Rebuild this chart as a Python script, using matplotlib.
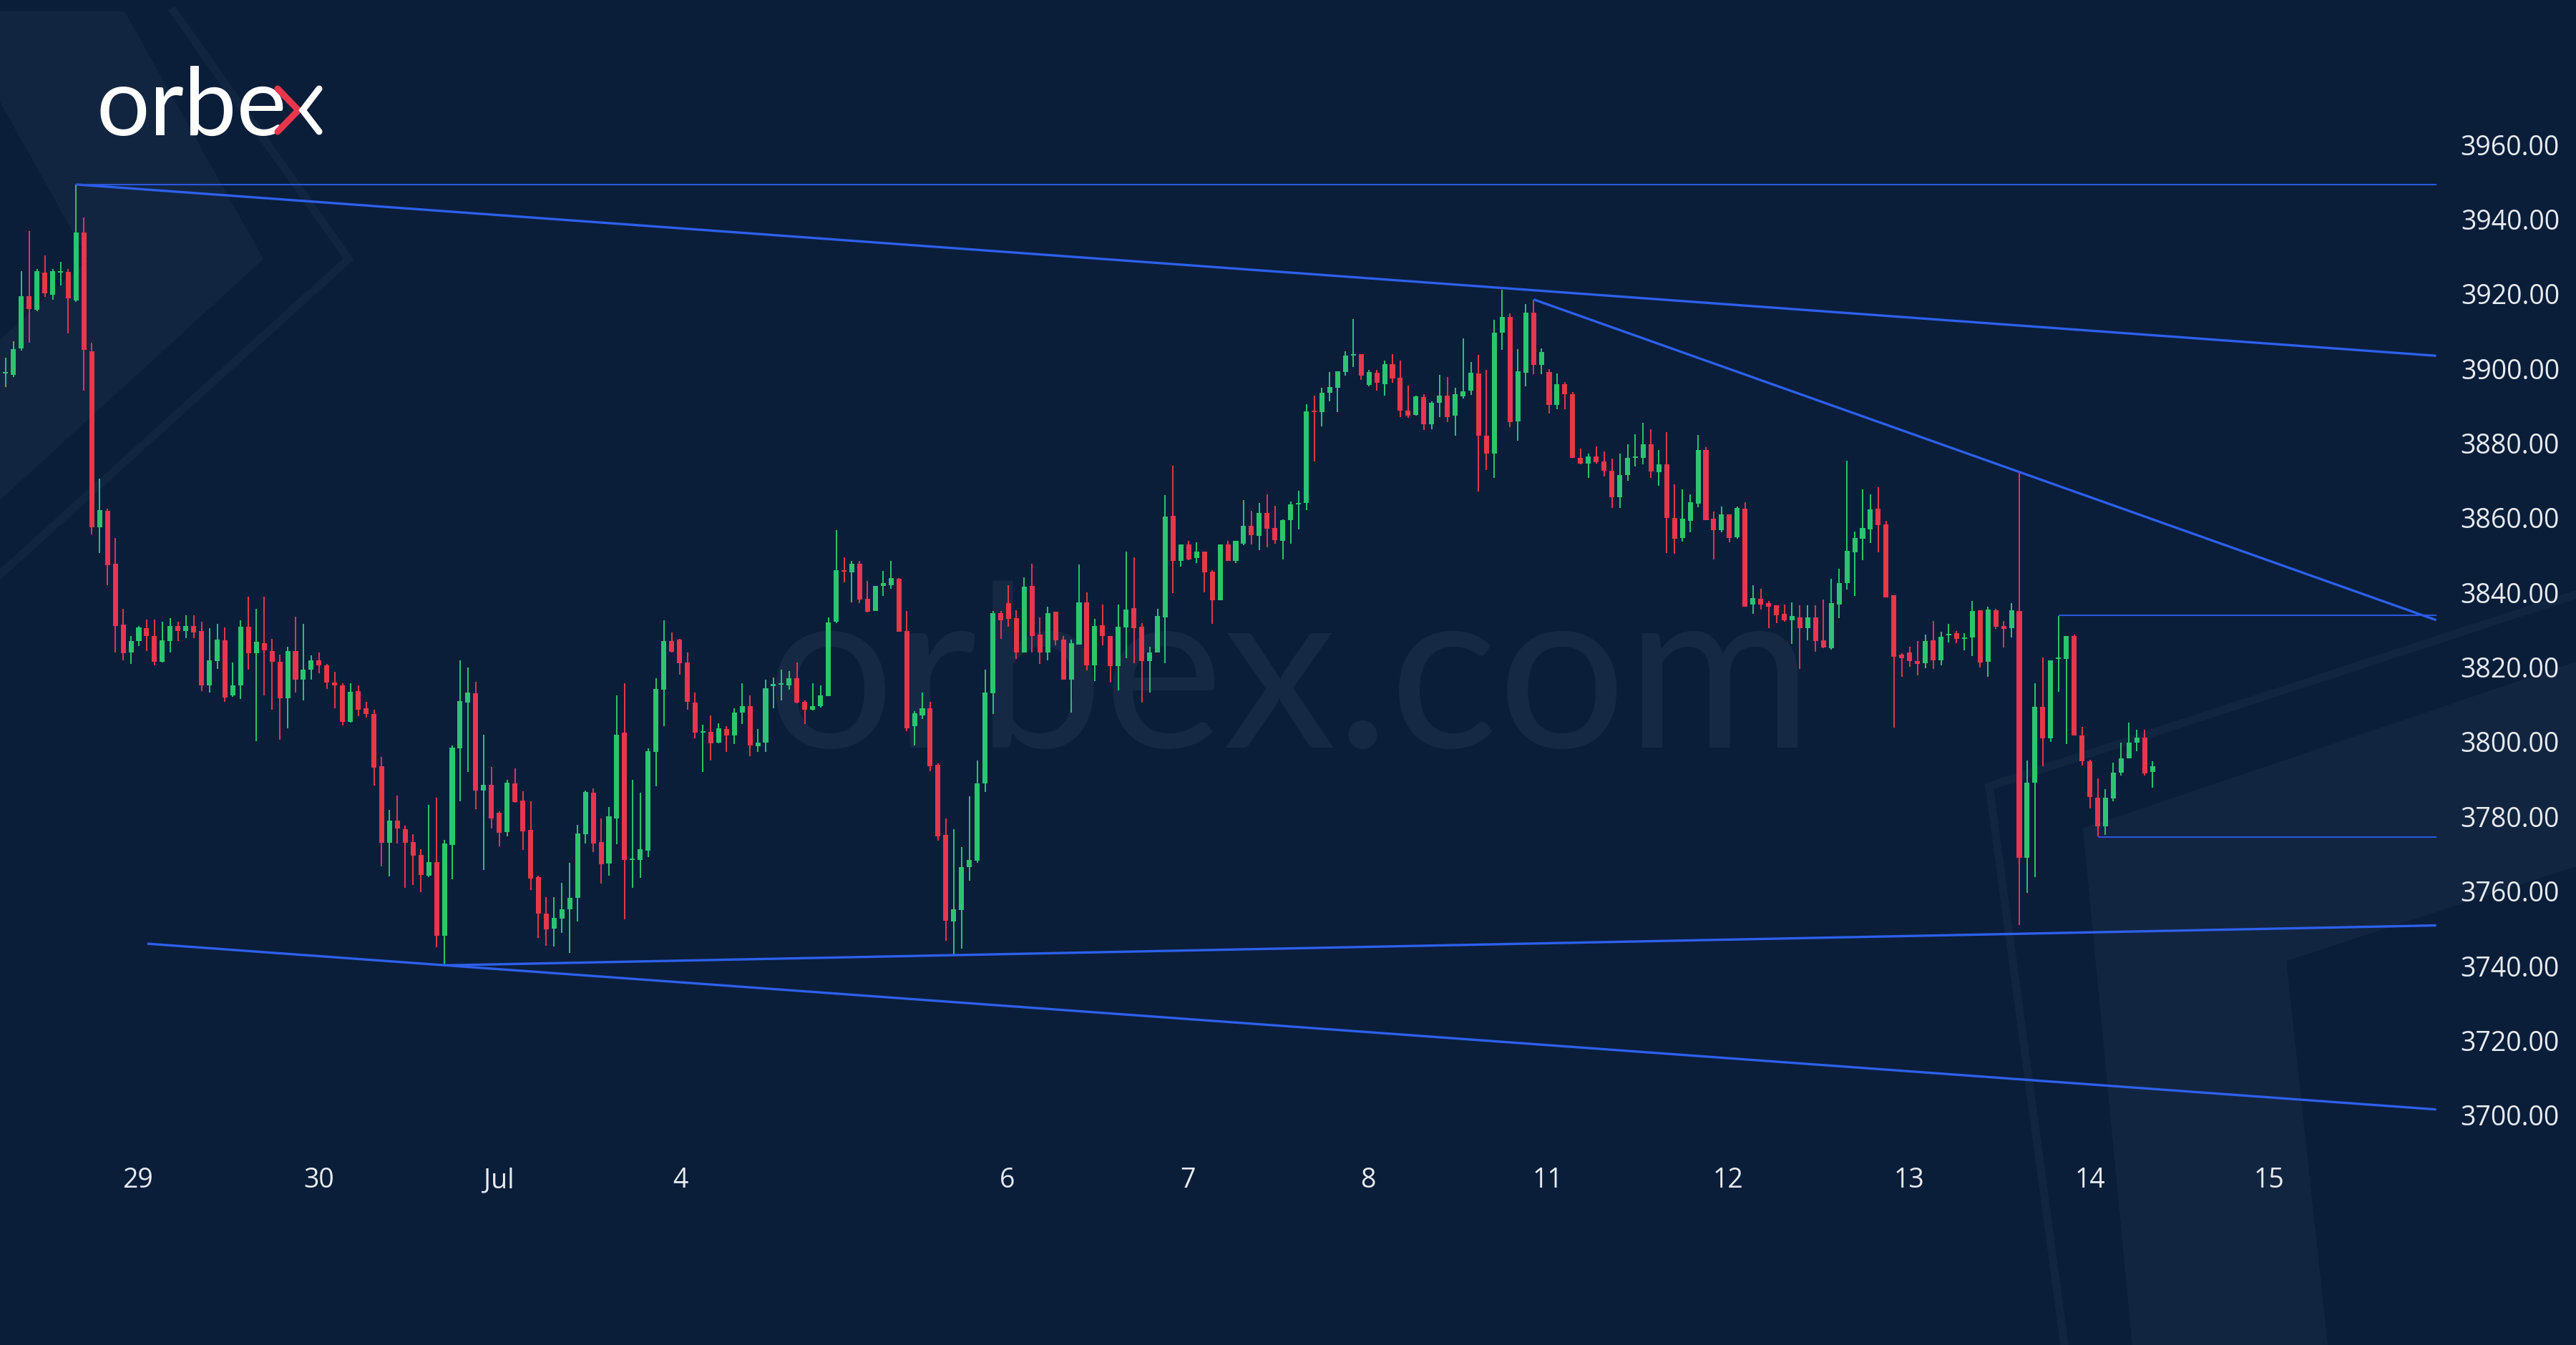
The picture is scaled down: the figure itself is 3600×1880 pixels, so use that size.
import matplotlib
matplotlib.use("Agg")
import matplotlib.pyplot as plt
from matplotlib.patches import Polygon
from matplotlib.lines import Line2D

# hourly candles, index 0 = first bar on the left edge
opens = [
    3894.1, 3899.3, 3899.0, 3906.0, 3920.1, 3916.4, 3926.4, 3920.4, 3926.3, 3926.5,
    3919.0, 3937.2, 3905.4, 3858.2, 3862.6, 3848.4, 3832.1, 3824.7, 3827.6, 3831.1,
    3829.0, 3822.2, 3827.6, 3831.8, 3830.4, 3831.8, 3830.4, 3815.9, 3822.4, 3827.8,
    3813.2, 3815.9, 3831.5, 3824.5, 3827.1, 3825.0, 3822.2, 3812.4, 3825.0, 3817.4,
    3820.1, 3822.5, 3821.2, 3816.6, 3815.9, 3806.0, 3814.2, 3809.7, 3808.2, 3794.1,
    3773.7, 3779.5, 3777.3, 3773.8, 3770.4, 3764.9, 3768.4, 3748.7, 3773.0, 3798.9,
    3811.2, 3813.7, 3787.7, 3789.2, 3781.6, 3776.5, 3789.5, 3785.0, 3777.1, 3764.5,
    3754.7, 3750.7, 3753.4, 3755.9, 3758.8, 3775.9, 3787.1, 3773.8, 3768.0, 3780.2,
    3803.1, 3769.1, 3769.0, 3771.5, 3797.9, 3814.7, 3827.6, 3828.0, 3822.0, 3811.2,
    3803.1, 3803.3, 3800.4, 3804.1, 3802.3, 3808.5, 3810.2, 3799.5, 3800.4, 3815.7,
    3816.0, 3815.8, 3817.8, 3811.4, 3809.3, 3810.3, 3812.9, 3832.8, 3846.7, 3846.1,
    3848.4, 3839.0, 3835.8, 3842.4, 3842.6, 3844.3, 3830.3, 3804.8, 3807.7, 3809.7,
    3794.5, 3775.7, 3752.6, 3755.7, 3767.1, 3768.9, 3789.6, 3813.7, 3835.1, 3837.8,
    3833.9, 3824.7, 3842.5, 3829.5, 3824.7, 3835.5, 3828.0, 3817.4, 3826.8, 3838.0,
    3821.1, 3831.9, 3829.0, 3821.0, 3831.4, 3836.5, 3831.5, 3822.4, 3824.7, 3834.1,
    3861.3, 3849.1, 3853.5, 3849.9, 3851.6, 3846.3, 3838.7, 3853.6, 3849.1, 3853.8,
    3858.6, 3855.9, 3861.9, 3858.0, 3854.5, 3860.0, 3864.2, 3864.7, 3889.2, 3889.0,
    3894.2, 3895.6, 3899.8, 3904.1, 3904.6, 3896.3, 3899.5, 3896.5, 3901.9, 3898.3,
    3889.4, 3888.3, 3893.1, 3885.8, 3891.5, 3893.5, 3888.1, 3893.3, 3894.8, 3899.4,
    3882.7, 3877.9, 3910.2, 3914.6, 3886.5, 3899.6, 3915.6, 3901.6, 3899.8, 3891.0,
    3896.4, 3893.9, 3876.8, 3875.2, 3877.2, 3875.8, 3873.3, 3866.3, 3872.1, 3876.7,
    3876.7, 3880.3, 3873.0, 3875.0, 3860.6, 3855.2, 3859.8, 3864.5, 3878.9, 3860.4,
    3857.3, 3861.6, 3855.4, 3863.1, 3837.5, 3838.9, 3837.8, 3837.2, 3834.9, 3833.2,
    3834.0, 3831.1, 3834.0, 3827.8, 3825.7, 3837.5, 3843.3, 3851.5, 3855.0, 3857.5,
    3863.1, 3859.0, 3840.0, 3824.0, 3824.6, 3822.4, 3821.8, 3827.9, 3822.5, 3829.2,
    3829.7, 3828.2, 3828.6, 3836.0, 3822.1, 3836.0, 3831.8, 3831.2, 3835.8, 3769.7,
    3789.7, 3810.0, 3801.7, 3822.8, 3822.9, 3829.1, 3802.4, 3795.5, 3785.8, 3778.0,
    3785.5, 3792.4, 3796.3, 3800.5, 3801.9, 3792.7,
]
highs = [
    3901.0, 3903.5, 3908.0, 3926.7, 3937.5, 3927.4, 3931.0, 3927.4, 3929.3, 3927.4,
    3950.0, 3941.2, 3907.7, 3871.1, 3863.1, 3855.3, 3836.3, 3829.0, 3831.8, 3833.5,
    3833.5, 3832.8, 3833.9, 3832.9, 3834.6, 3834.6, 3832.9, 3831.1, 3832.2, 3831.3,
    3821.9, 3833.2, 3839.5, 3836.3, 3839.5, 3828.3, 3824.0, 3826.2, 3834.2, 3832.2,
    3823.8, 3824.7, 3821.6, 3819.5, 3816.3, 3816.3, 3815.9, 3811.4, 3809.3, 3796.6,
    3782.4, 3786.2, 3778.2, 3775.9, 3771.9, 3783.8, 3785.8, 3774.4, 3799.8, 3822.5,
    3820.5, 3816.8, 3802.5, 3793.9, 3782.1, 3790.6, 3793.5, 3787.5, 3784.8, 3764.9,
    3759.0, 3759.0, 3762.9, 3768.2, 3778.4, 3787.6, 3788.3, 3780.2, 3783.3, 3813.1,
    3816.4, 3790.6, 3787.1, 3798.9, 3817.8, 3833.3, 3829.9, 3828.2, 3824.7, 3813.9,
    3805.3, 3807.8, 3805.6, 3804.8, 3809.6, 3816.4, 3813.1, 3804.1, 3817.4, 3817.9,
    3820.1, 3819.7, 3822.0, 3811.8, 3816.4, 3815.8, 3834.1, 3857.4, 3850.2, 3849.2,
    3849.1, 3843.7, 3842.5, 3846.5, 3849.2, 3844.5, 3835.8, 3808.9, 3813.9, 3811.4,
    3795.0, 3780.2, 3777.3, 3772.5, 3786.1, 3795.6, 3820.1, 3835.8, 3835.8, 3842.6,
    3835.9, 3844.8, 3848.4, 3834.0, 3836.8, 3835.5, 3829.1, 3828.0, 3848.1, 3840.7,
    3833.7, 3837.4, 3829.0, 3837.4, 3851.7, 3850.2, 3832.4, 3826.1, 3836.3, 3866.7,
    3874.7, 3853.5, 3854.6, 3854.1, 3851.6, 3846.6, 3853.6, 3854.5, 3854.5, 3865.5,
    3862.5, 3864.7, 3866.9, 3863.9, 3860.3, 3865.0, 3868.0, 3891.2, 3893.5, 3895.6,
    3899.8, 3900.0, 3905.4, 3913.9, 3904.6, 3900.4, 3900.3, 3902.9, 3904.6, 3902.9,
    3896.2, 3893.5, 3893.8, 3891.9, 3898.9, 3898.4, 3895.5, 3908.8, 3902.4, 3904.3,
    3900.4, 3913.7, 3921.8, 3915.4, 3905.8, 3917.9, 3919.2, 3906.0, 3900.5, 3899.4,
    3897.0, 3894.3, 3879.3, 3877.9, 3879.9, 3878.5, 3876.6, 3877.9, 3880.3, 3883.0,
    3886.2, 3884.5, 3878.9, 3883.6, 3869.6, 3868.3, 3867.0, 3882.9, 3879.6, 3862.3,
    3863.7, 3861.6, 3863.7, 3864.8, 3842.6, 3841.7, 3838.4, 3837.3, 3837.5, 3838.0,
    3837.3, 3837.2, 3837.2, 3838.8, 3844.4, 3847.1, 3876.0, 3857.1, 3868.3, 3867.0,
    3868.8, 3859.9, 3840.0, 3824.5, 3826.1, 3827.6, 3829.5, 3833.1, 3830.1, 3832.3,
    3830.4, 3829.8, 3838.4, 3836.0, 3836.9, 3836.4, 3833.0, 3837.9, 3872.8, 3795.6,
    3816.3, 3823.3, 3822.5, 3834.4, 3829.1, 3829.4, 3804.6, 3795.9, 3790.9, 3788.0,
    3795.1, 3800.5, 3805.9, 3804.0, 3804.0, 3795.5,
]
lows = [
    3893.0, 3895.7, 3898.5, 3905.5, 3907.7, 3916.0, 3919.9, 3919.2, 3922.9, 3910.1,
    3918.5, 3894.8, 3856.2, 3851.2, 3842.7, 3824.7, 3822.6, 3821.5, 3826.4, 3825.0,
    3821.2, 3821.9, 3824.7, 3827.6, 3828.5, 3828.5, 3814.2, 3813.9, 3820.2, 3811.4,
    3812.8, 3812.1, 3820.1, 3800.8, 3813.2, 3809.3, 3801.3, 3804.4, 3813.9, 3811.8,
    3817.3, 3819.1, 3814.9, 3809.7, 3805.1, 3805.8, 3807.6, 3807.2, 3788.9, 3767.4,
    3764.7, 3773.5, 3761.5, 3762.4, 3760.5, 3764.4, 3745.7, 3740.8, 3763.9, 3784.8,
    3792.7, 3782.7, 3766.4, 3777.5, 3772.6, 3775.3, 3784.4, 3771.8, 3761.0, 3748.2,
    3746.0, 3745.9, 3749.5, 3744.1, 3752.6, 3773.4, 3771.1, 3762.8, 3764.9, 3773.2,
    3753.2, 3761.5, 3764.2, 3769.9, 3788.8, 3804.8, 3824.7, 3818.6, 3809.3, 3801.6,
    3792.7, 3795.6, 3800.2, 3797.9, 3800.0, 3805.4, 3796.9, 3797.9, 3797.9, 3809.7,
    3811.8, 3814.7, 3811.0, 3805.4, 3809.1, 3809.9, 3812.9, 3832.5, 3843.4, 3838.0,
    3837.8, 3835.3, 3835.7, 3839.7, 3841.7, 3830.1, 3803.5, 3799.8, 3806.8, 3792.9,
    3774.2, 3747.4, 3743.7, 3745.2, 3763.4, 3768.2, 3787.3, 3808.1, 3828.2, 3831.6,
    3822.9, 3824.7, 3824.7, 3821.6, 3822.6, 3826.5, 3817.4, 3808.5, 3826.8, 3819.9,
    3817.0, 3826.6, 3816.6, 3814.5, 3823.0, 3821.8, 3811.2, 3813.9, 3824.7, 3821.8,
    3840.6, 3847.6, 3849.3, 3848.5, 3840.8, 3832.2, 3838.7, 3849.1, 3848.5, 3853.4,
    3853.6, 3852.0, 3852.8, 3853.7, 3849.5, 3853.7, 3857.5, 3862.8, 3875.8, 3885.2,
    3891.9, 3889.1, 3898.8, 3901.0, 3897.7, 3896.0, 3894.8, 3893.4, 3896.9, 3887.7,
    3887.5, 3888.1, 3884.2, 3884.4, 3887.6, 3886.3, 3882.7, 3892.7, 3893.7, 3867.8,
    3873.4, 3871.4, 3905.6, 3885.0, 3881.3, 3895.9, 3899.2, 3899.1, 3888.6, 3889.7,
    3889.7, 3876.8, 3875.0, 3871.4, 3875.2, 3871.8, 3863.3, 3863.3, 3870.6, 3874.5,
    3875.0, 3871.4, 3869.2, 3851.3, 3851.1, 3854.4, 3856.9, 3863.5, 3860.0, 3849.6,
    3856.9, 3854.2, 3855.1, 3836.8, 3834.9, 3836.1, 3831.1, 3832.4, 3832.8, 3826.9,
    3820.3, 3827.9, 3824.9, 3825.7, 3825.3, 3833.8, 3841.5, 3839.8, 3849.4, 3854.0,
    3851.4, 3839.4, 3804.5, 3818.1, 3820.7, 3818.4, 3820.4, 3820.2, 3821.2, 3827.3,
    3827.1, 3825.2, 3823.7, 3820.6, 3818.2, 3831.0, 3826.0, 3828.6, 3751.6, 3760.3,
    3764.5, 3794.1, 3800.6, 3814.0, 3800.1, 3802.4, 3794.4, 3782.8, 3775.4, 3775.7,
    3784.8, 3791.7, 3796.3, 3798.1, 3791.6, 3788.4,
]
closes = [
    3899.5, 3899.8, 3905.9, 3920.1, 3916.6, 3926.8, 3920.8, 3926.8, 3926.5, 3919.4,
    3937.2, 3905.6, 3858.2, 3862.7, 3848.0, 3831.8, 3824.5, 3827.6, 3831.3, 3829.0,
    3822.2, 3827.8, 3831.8, 3830.4, 3831.8, 3830.0, 3815.9, 3822.5, 3828.1, 3812.5,
    3815.9, 3831.5, 3824.5, 3827.4, 3825.2, 3822.2, 3812.4, 3825.0, 3817.4, 3820.1,
    3822.5, 3821.2, 3816.6, 3815.9, 3806.0, 3814.1, 3809.3, 3808.2, 3793.8, 3773.7,
    3779.5, 3777.4, 3773.6, 3770.1, 3765.0, 3768.4, 3748.7, 3773.4, 3799.1, 3811.6,
    3813.9, 3787.6, 3789.1, 3780.2, 3776.3, 3789.8, 3784.6, 3776.8, 3764.0, 3754.6,
    3750.5, 3753.6, 3755.9, 3758.8, 3776.2, 3787.3, 3773.4, 3767.8, 3780.8, 3802.5,
    3769.0, 3769.4, 3771.9, 3798.1, 3814.9, 3827.6, 3824.9, 3821.8, 3811.4, 3803.1,
    3803.3, 3800.2, 3804.4, 3802.3, 3808.5, 3810.2, 3799.8, 3800.4, 3815.1, 3816.0,
    3816.2, 3817.8, 3811.2, 3809.3, 3810.3, 3813.1, 3832.6, 3846.7, 3846.3, 3848.4,
    3838.8, 3835.5, 3842.5, 3843.2, 3844.5, 3830.1, 3804.3, 3808.3, 3809.6, 3794.1,
    3775.4, 3752.8, 3755.9, 3767.2, 3769.0, 3789.6, 3813.9, 3835.1, 3833.3, 3833.6,
    3824.7, 3842.3, 3829.0, 3824.7, 3835.1, 3827.8, 3817.4, 3827.2, 3838.0, 3821.1,
    3831.8, 3829.1, 3821.0, 3831.5, 3836.1, 3831.1, 3822.4, 3824.7, 3834.3, 3861.1,
    3849.1, 3853.5, 3849.5, 3851.6, 3846.0, 3838.7, 3853.6, 3849.1, 3854.5, 3858.6,
    3856.1, 3861.9, 3857.8, 3854.7, 3860.0, 3864.2, 3864.7, 3889.2, 3889.0, 3894.1,
    3895.8, 3900.0, 3904.1, 3904.5, 3898.8, 3899.8, 3896.9, 3901.9, 3898.0, 3889.4,
    3888.1, 3893.3, 3885.8, 3891.5, 3893.5, 3887.7, 3893.8, 3894.6, 3899.5, 3882.7,
    3877.9, 3910.2, 3914.6, 3886.3, 3900.0, 3915.6, 3901.6, 3905.2, 3891.0, 3896.4,
    3893.9, 3876.8, 3875.2, 3877.2, 3875.6, 3873.3, 3866.3, 3872.1, 3876.7, 3876.9,
    3880.3, 3873.1, 3875.0, 3860.6, 3855.0, 3860.4, 3864.8, 3878.9, 3860.0, 3857.3,
    3861.6, 3855.2, 3863.3, 3836.9, 3839.2, 3837.4, 3836.9, 3834.6, 3833.2, 3834.3,
    3831.1, 3834.0, 3827.6, 3825.9, 3837.8, 3843.3, 3851.9, 3855.2, 3857.9, 3862.9,
    3858.7, 3839.4, 3823.5, 3823.0, 3822.3, 3821.6, 3827.6, 3822.5, 3828.9, 3829.5,
    3828.3, 3828.4, 3835.8, 3821.9, 3836.2, 3831.6, 3831.0, 3836.0, 3769.7, 3789.7,
    3810.0, 3801.7, 3822.5, 3822.9, 3829.1, 3802.4, 3795.5, 3785.9, 3778.0, 3785.8,
    3792.4, 3796.3, 3800.5, 3801.9, 3792.2, 3794.1,
]

# date labels and the bar index where each day starts
day_labels = ["29", "30", "Jul", "4", "6", "7", "8", "11", "12", "13", "14", "15"]
day_pos = [17.9, 41.0, 64.0, 87.1, 128.8, 151.9, 174.9, 197.8, 220.8, 243.9, 267.0, 289.9]

price_ticks = [3700, 3720, 3740, 3760, 3780, 3800, 3820, 3840, 3860, 3880, 3900, 3920, 3940, 3960]

# drawn analysis lines: (bar start, price start, bar end, price end)
trend_lines = [
    (10, 3950.0, 311.2, 3904.1),
    (196, 3919.2, 311.2, 3833.3),
    (57, 3740.8, 311.2, 3751.5),
    (19.1, 3746.6, 311.2, 3702.2),
]
level_lines = [
    (10, 3950.0, 311.2),
    (263, 3834.6, 311.2),
    (268, 3775.2, 311.2),
]

BG = "#0a1e3a"
GREEN = "#2cc56f"
RED = "#e8364b"
BLUE = "#2d60ec"

W, H = 3600, 1881
fig = plt.figure(figsize=(W / 100, H / 100), dpi=100)
fig.patch.set_facecolor(BG)
ax = fig.add_axes([0, 0, 1, 1])
ax.set_facecolor("none")
ax.axis("off")
ax.set_xlim(0.283, 329.05)
ax.set_ylim(3639.1, 3999.6)


def fp(pts):
    # pixel coords (from top-left) -> figure fraction
    return [(x / W, 1 - y / H) for x, y in pts]


# faint background shapes
shade = dict(facecolor="white", alpha=0.035, edgecolor="none", transform=fig.transFigure, zorder=0)
ax.add_patch(Polygon(fp([(0, 17), (174, 17), (368, 363), (0, 700), (0, 476), (123, 363), (0, 143)]), **shade))
ax.add_patch(Polygon(fp([(2911, 1159), (3600, 926), (3600, 1212), (3195, 1344), (3253, 1881), (2980, 1881)]), **shade))
stroke = dict(color="white", alpha=0.035, lw=8, transform=fig.transFigure, zorder=0, solid_joinstyle="miter")
for pts in ([(243, 17), (487, 363), (0, 804)], [(3600, 832), (2780, 1100), (2885, 1881)]):
    xs, ys = zip(*fp(pts))
    ax.add_line(Line2D(xs, ys, **stroke))

# watermark
ax.text(0.5006, 0.4444, "orbex.com", transform=ax.transAxes, ha="center", va="baseline",
        fontsize=228, family="Lato", color="white", alpha=0.05, zorder=1)

# candles
n = len(closes)
xs = list(range(n))
up = [c >= o for o, c in zip(opens, closes)]
cols = [GREEN if u else RED for u in up]
ax.vlines(xs, lows, highs, colors=cols, linewidth=1.4, zorder=3)
bottoms = [min(o, c) for o, c in zip(opens, closes)]
heights = [max(abs(c - o), 0.4) for o, c in zip(opens, closes)]
ax.bar(xs, heights, bottom=bottoms, width=0.64, color=cols, linewidth=0, zorder=4)

# analysis lines
for x0, y0, x1, y1 in trend_lines:
    ax.plot([x0, x1], [y0, y1], color=BLUE, lw=2.4, zorder=5, solid_capstyle="butt")
for x0, y, x1 in level_lines:
    ax.plot([x0, x1], [y, y], color="#2a57dc", lw=1.5, zorder=5, solid_capstyle="butt")

# price labels on the right
for p in price_ticks:
    ax.text(0.9936, p, "%.2f" % p, transform=ax.get_yaxis_transform(), ha="right", va="center",
            fontsize=27, family="Open Sans", color="#e8ebf0", zorder=6)

# date labels along the bottom
for lab, pos in zip(day_labels, day_pos):
    ax.text(pos, 0.1228, lab, transform=ax.get_xaxis_transform(), ha="center", va="center",
            fontsize=27, family="Open Sans", color="#e8ebf0", zorder=6)

# logo
ax.text(134 / W, 1 - 189 / H, "orbe", transform=fig.transFigure, ha="left", va="baseline",
        fontsize=95, family="Lato", fontweight="normal", color="white", zorder=6)
lx, ly = zip(*fp([(388, 125), (417, 155), (388, 185)]))
ax.add_line(Line2D(lx, ly, color=RED, lw=6.5, solid_capstyle="round", solid_joinstyle="miter",
                   transform=fig.transFigure, zorder=6))
lx, ly = zip(*fp([(446, 125), (423, 155), (446, 185)]))
ax.add_line(Line2D(lx, ly, color="white", lw=6.5, solid_capstyle="round", solid_joinstyle="miter",
                   transform=fig.transFigure, zorder=6))

fig.savefig("out.png", dpi=100, facecolor=BG)
